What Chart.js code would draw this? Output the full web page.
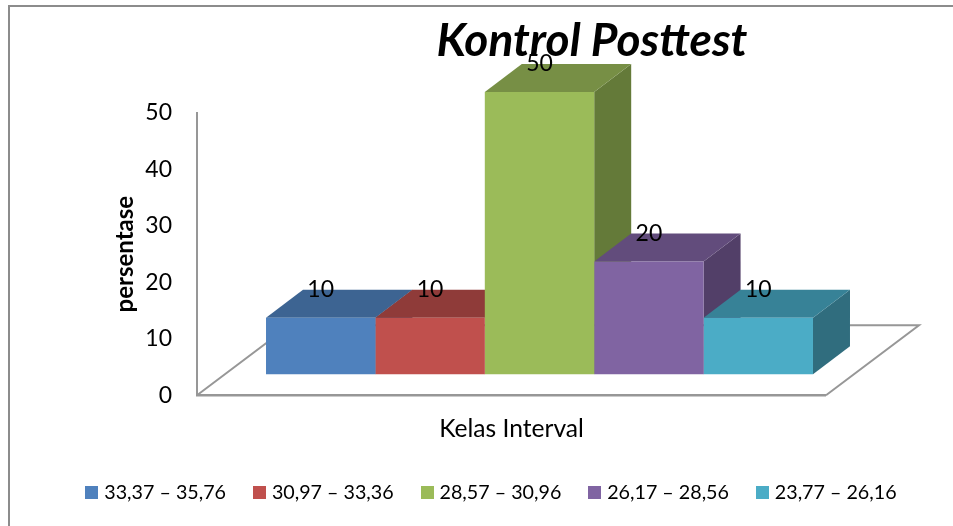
<!DOCTYPE html>
<html><head><meta charset="utf-8">
<style>
html,body{margin:0;padding:0;background:#fff;overflow:hidden}
#frame{position:absolute;left:8px;top:5px;right:0;bottom:0;border-left:2px solid #8c8c8c;border-top:2px solid #8c8c8c;pointer-events:none}
canvas{position:absolute;left:0;top:0}
</style>
<script src="https://cdn.jsdelivr.net/npm/chart.js@4"></script>
</head><body>
<canvas id="c" width="953" height="526"></canvas>
<div id="frame"></div>
<script>
const seriesNames = ['33,37 – 35,76','30,97 – 33,36','28,57 – 30,96','26,17 – 28,56','23,77 – 26,16'];
const seriesValues = [10,10,50,20,10];
const frontColors = ['#4f81bd','#c0504d','#9bbb59','#8064a2','#4bacc6'];
const topColors = ['#3d6492','#8f3b39','#778f45','#624c7c','#378297'];
const sideColors = ['#34547b','#7a3230','#647a39','#523f68','#306d7e'];
const yTicks = [0,10,20,30,40,50];
const titleText = 'Kontrol Posttest';
const xTitle = 'Kelas Interval';
const yTitle = 'persentase';
const FONT = 'Lato';
const DEPTH = {dx:37, dy:-28};
const FLOOR = {width:629, dx:93, dy:-70};

function swatch(color){
  const s = document.createElement('canvas'); s.width = 13; s.height = 13;
  const g = s.getContext('2d'); g.fillStyle = color; g.fillRect(0,0,13,13);
  return s;
}
const swatches = frontColors.map(swatch);

const box3d = {
  id:'box3d',
  afterLayout(chart){
    const t = chart.titleBlock; t.left += 231; t.right += 71;
    const l = chart.legend; l.left += 52; l.right += 52;
    const x = chart.scales.x; x.right = x.left + FLOOR.width;
  },
  beforeDatasetsDraw(chart){
    const {ctx, chartArea:a} = chart;
    ctx.save();
    ctx.strokeStyle = '#979797'; ctx.lineWidth = 2; ctx.lineJoin = 'miter';
    const fr = a.left + FLOOR.width;
    ctx.beginPath();
    ctx.moveTo(a.left, a.bottom);
    ctx.lineTo(a.left + FLOOR.dx, a.bottom + FLOOR.dy);
    ctx.lineTo(fr + FLOOR.dx, a.bottom + FLOOR.dy);
    ctx.lineTo(fr, a.bottom);
    ctx.stroke();
    ctx.lineWidth = 2.5;
    ctx.beginPath(); ctx.moveTo(a.left - 1, a.bottom); ctx.lineTo(fr, a.bottom); ctx.stroke();
    chart.data.datasets.forEach((d,i) => {
      const b = chart.getDatasetMeta(i).data[0];
      const L = b.x - b.width/2, R = b.x + b.width/2, T = b.y, B = b.base;
      ctx.fillStyle = sideColors[i];
      ctx.beginPath(); ctx.moveTo(R,T); ctx.lineTo(R+DEPTH.dx,T+DEPTH.dy); ctx.lineTo(R+DEPTH.dx,B+DEPTH.dy); ctx.lineTo(R,B); ctx.closePath(); ctx.fill();
      ctx.fillStyle = topColors[i];
      ctx.beginPath(); ctx.moveTo(L,T); ctx.lineTo(L+DEPTH.dx,T+DEPTH.dy); ctx.lineTo(R+DEPTH.dx,T+DEPTH.dy); ctx.lineTo(R,T); ctx.closePath(); ctx.fill();
    });
    ctx.restore();
  },
  afterDatasetsDraw(chart){
    const {ctx} = chart;
    ctx.save();
    ctx.font = '23px ' + FONT; ctx.fillStyle = '#000'; ctx.textAlign = 'center'; ctx.textBaseline = 'middle';
    chart.data.datasets.forEach((d,i) => {
      const b = chart.getDatasetMeta(i).data[0];
      ctx.fillText(String(d.data[0]), b.x, b.y + DEPTH.dy);
    });
    ctx.restore();
  }
};

new Chart(document.getElementById('c'), {
  type:'bar',
  data:{
    labels:[''],
    datasets: seriesNames.map((n,i) => ({
      label:n, data:[seriesValues[i]], backgroundColor:frontColors[i], borderWidth:0,
      yAxisID:'yb', clip:false, barPercentage:1, categoryPercentage:0.7985
    }))
  },
  options:{
    responsive:false, animation:false,
    layout:{padding:{left:0,right:71,top:0,bottom:14}},
    plugins:{
      tooltip:{enabled:false},
      title:{display:true,text:titleText,color:'#000',padding:{top:13.4,bottom:44.4},
        font:{family:FONT,size:46,weight:'bold',style:'italic',lineHeight:1.2}},
      legend:{position:'bottom',
        labels:{color:'#000',font:{family:FONT,size:19.7},usePointStyle:true,pointStyleWidth:5,padding:31,
          generateLabels(chart){
            return Chart.defaults.plugins.legend.labels.generateLabels(chart).map((it,i)=>Object.assign(it,{pointStyle:swatches[i]}));
          }}}
    },
    scales:{
      x:{grid:{display:false},border:{display:false},ticks:{display:false},
        title:{display:true,text:xTitle,color:'#000',font:{family:FONT,size:24.6},padding:{top:0,bottom:7}},
        afterFit(s){ s.height = 56; }},
      y:{min:0,max:50,position:'left',grid:{display:false,drawTicks:false},
        border:{display:true,color:'#979797',width:2},
        afterBuildTicks(s){ s.ticks = yTicks.map(v=>({value:v})); },
        ticks:{color:'#000',padding:25,font:{family:FONT,size:23}},
        title:{display:true,text:yTitle,color:'#000',font:{family:FONT,size:24,weight:'bold'},padding:{top:110.6,bottom:0}},
        afterFit(s){ s.width = 197; }},
      yb:{display:false,min:-3.72,max:46.28,position:'left'}
    }
  },
  plugins:[box3d]
});
</script>
</body></html>
